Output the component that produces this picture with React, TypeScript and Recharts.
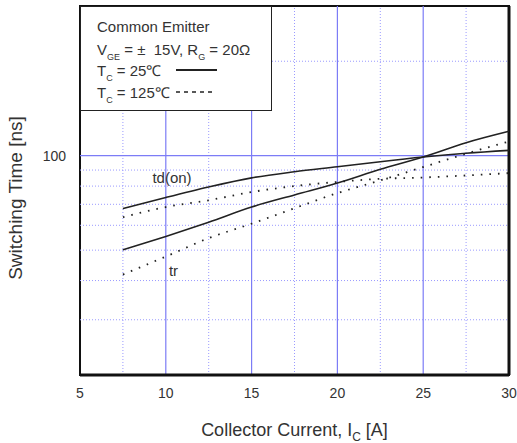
import React from "react";
import {
  LineChart,
  Line,
  XAxis,
  YAxis,
  ReferenceLine,
  ReferenceArea,
  ReferenceDot,
} from "recharts";

// collector current [A]
const current = [7.5, 10, 12.5, 15, 17.5, 20, 22.5, 25, 27.5, 30];
// switching time [ns]
const tdOn25 = [67.8, 73.6, 79.5, 85.0, 88.9, 92.2, 95.7, 99.0, 101.8, 104.0];
const tdOn125 = [63.7, 68.6, 72.1, 76.6, 80.0, 82.5, 84.4, 85.2, 86.5, 88.0];
const tr25 = [50.1, 55.3, 61.4, 68.6, 75.0, 81.8, 90.5, 99.0, 110.0, 119.6];
const tr125 = [41.8, 47.7, 54.6, 60.7, 68.0, 76.0, 83.4, 92.0, 101.5, 111.0];

const xTicks = [5, 10, 15, 20, 25, 30];
const yTicks = [100];
const xGridMajor = [10, 15, 20, 25];
const xGridMinor = [7.5, 12.5, 17.5, 22.5, 27.5];
const yGridMajor = [100];
const yGridMinor = [30, 40, 50, 60, 70, 80, 90, 200];

const data = current.map((x, i) => ({
  x,
  tdOn25: tdOn25[i],
  tdOn125: tdOn125[i],
  tr25: tr25[i],
  tr125: tr125[i],
}));

const FONT = "'Liberation Sans', Arial, sans-serif";
const TEXT = "#333";
const INK = "#222";
const GRID = "#7c7cf6";
const GRID_MINOR = "#9a9aff";

const XTitle = (props: any) => {
  const vb = props.viewBox || { x: 80, width: 429 };
  return (
    <text
      x={vb.x + vb.width / 2}
      y={436}
      textAnchor="middle"
      fontSize={18}
      fontFamily={FONT}
      fill={TEXT}
    >
      Collector Current, I
      <tspan fontSize={12} dy={5}>C</tspan>
      <tspan dy={-5}> [A]</tspan>
    </text>
  );
};

const YTitle = () => (
  <text
    x={22}
    y={198}
    transform="rotate(-90 22 198)"
    textAnchor="middle"
    fontSize={19}
    fontFamily={FONT}
    fill={TEXT}
  >
    Switching Time [ns]
  </text>
);

const sub = { fontSize: 9, position: "relative" as const, top: 5 };

export default function App() {
  return (
    <div style={{ position: "absolute", left: 0, top: 0, width: 517, height: 443, background: "#fff" }}>
      <LineChart
        width={517}
        height={443}
        data={data}
        margin={{ top: 6, right: 8, left: 0, bottom: 38 }}
      >
        <XAxis
          dataKey="x"
          type="number"
          domain={[5, 30]}
          ticks={xTicks}
          axisLine={false}
          tickLine={false}
          tickSize={6}
          tickMargin={7}
          height={30}
          tick={{ fontSize: 14, fill: TEXT, fontFamily: FONT }}
          label={<XTitle />}
        />
        <YAxis
          type="number"
          scale="log"
          domain={[20, 300]}
          ticks={yTicks}
          allowDataOverflow
          axisLine={false}
          tickLine={false}
          tickSize={6}
          tickMargin={8}
          width={80}
          tick={{ fontSize: 14, fill: TEXT, fontFamily: FONT }}
          label={<YTitle />}
        />

        {xGridMinor.map((v) => (
          <ReferenceLine key={`xm${v}`} x={v} stroke={GRID_MINOR} strokeDasharray="1 2" />
        ))}
        {yGridMinor.map((v) => (
          <ReferenceLine key={`ym${v}`} y={v} stroke={GRID_MINOR} strokeDasharray="1 2" />
        ))}
        {xGridMajor.map((v) => (
          <ReferenceLine key={`xM${v}`} x={v} stroke={GRID} strokeWidth={1.2} />
        ))}
        {yGridMajor.map((v) => (
          <ReferenceLine key={`yM${v}`} y={v} stroke={GRID} strokeWidth={1.2} />
        ))}

        <ReferenceArea x1={5} x2={30} y1={20} y2={300} fill="none" stroke="#111" strokeWidth={2} />
        <ReferenceLine y={20} stroke="#111" strokeWidth={3} />
        <ReferenceLine x={30} stroke="#111" strokeWidth={3} />

        <Line dataKey="tdOn25" type="monotone" stroke={INK} strokeWidth={1.6} dot={false} isAnimationActive={false} />
        <Line dataKey="tr25" type="monotone" stroke={INK} strokeWidth={1.6} dot={false} isAnimationActive={false} />
        <Line
          dataKey="tdOn125"
          type="monotone"
          stroke={INK}
          strokeWidth={1.8}
          strokeDasharray="1.6 7"
          dot={false}
          isAnimationActive={false}
        />
        <Line
          dataKey="tr125"
          type="monotone"
          stroke={INK}
          strokeWidth={1.8}
          strokeDasharray="1.6 7"
          dot={false}
          isAnimationActive={false}
        />

        <ReferenceDot
          x={10.36}
          y={85}
          r={0}
          label={{ value: "td(on)", position: "center", fontSize: 15, fill: TEXT, fontFamily: FONT }}
        />
        <ReferenceDot
          x={10.45}
          y={43.1}
          r={0}
          label={{ value: "tr", position: "center", fontSize: 15, fill: TEXT, fontFamily: FONT }}
        />
      </LineChart>

      <div
        style={{
          position: "absolute",
          left: 80,
          top: 6,
          width: 192,
          height: 105,
          boxSizing: "border-box",
          background: "#fff",
          border: "1.5px solid #222",
          fontFamily: FONT,
          fontSize: 15,
          color: TEXT,
          lineHeight: "20px",
          whiteSpace: "nowrap",
        }}
      >
        <div style={{ position: "absolute", left: 16, top: 10 }}>Common Emitter</div>
        <div style={{ position: "absolute", left: 16, top: 33 }}>
          V<span style={sub}>GE</span> = ±&nbsp; 15V, R<span style={sub}>G</span> = 20Ω
        </div>
        <div style={{ position: "absolute", left: 16, top: 54 }}>
          T<span style={sub}>C</span> = 25℃
        </div>
        <div style={{ position: "absolute", left: 16, top: 76 }}>
          T<span style={sub}>C</span> = 125℃
        </div>
        <svg style={{ position: "absolute", left: 0, top: 0 }} width={190} height={103}>
          <line x1={95} x2={136} y1={63} y2={63} stroke={INK} strokeWidth={1.8} />
          <line x1={95} x2={134} y1={85} y2={85} stroke={INK} strokeWidth={1.4} strokeDasharray="4 4" />
        </svg>
      </div>
    </div>
  );
}
